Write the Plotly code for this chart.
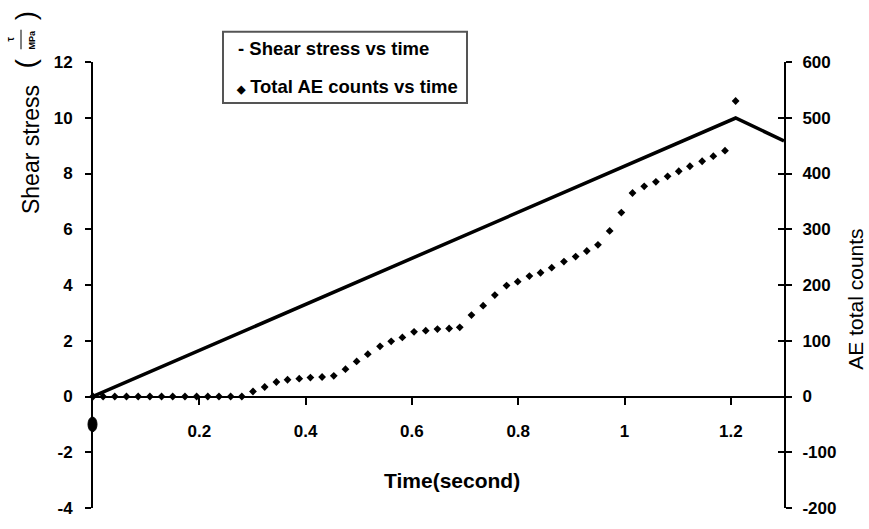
import plotly.graph_objects as go

# ---- data ----
shear_time = [0.0, 1.209, 1.3]
shear_stress = [0.0, 9.99, 9.17]

ae_time = [0.000, 0.019, 0.041, 0.063, 0.085, 0.107, 0.129, 0.150, 0.173, 0.195,
           0.216, 0.237, 0.259, 0.280, 0.301, 0.323, 0.345, 0.366, 0.388, 0.409,
           0.431, 0.453, 0.475, 0.496, 0.517, 0.540, 0.561, 0.582, 0.604, 0.626,
           0.648, 0.670, 0.690, 0.712, 0.734, 0.756, 0.778, 0.799, 0.821, 0.842,
           0.863, 0.886, 0.908, 0.929, 0.950, 0.972, 0.994, 1.015, 1.037, 1.059,
           1.081, 1.102, 1.123, 1.146, 1.167, 1.189, 1.209]
ae_counts = [0, 0, 0, 0, 0, 0, 0, 0, 0, 0,
             0, 0, 0, 0, 9, 17, 26, 30, 32, 34,
             35, 37, 49, 63, 76, 90, 99, 106, 116, 118,
             121, 122, 124, 146, 163, 182, 199, 206, 216, 222,
             231, 242, 251, 261, 272, 297, 330, 365, 377, 385,
             395, 404, 413, 422, 431, 441, 530]

x_tickvals = [0.2, 0.4, 0.6, 0.8, 1.0, 1.2]
x_ticklabels = ["0.2", "0.4", "0.6", "0.8", "1", "1.2"]
y_left_ticks = [-4, -2, 0, 2, 4, 6, 8, 10, 12]
y_right_ticks = [-200, -100, 0, 100, 200, 300, 400, 500, 600]

FONT = "Liberation Sans, Arial, sans-serif"

def bold(labels):
    return ["<b>%s</b>" % s for s in labels]

fig = go.Figure()
fig.add_trace(go.Scatter(x=shear_time, y=shear_stress, mode="lines",
                         line=dict(color="black", width=3.5),
                         name="Shear stress vs time", yaxis="y", cliponaxis=False))
fig.add_trace(go.Scatter(x=ae_time, y=ae_counts, mode="markers",
                         marker=dict(symbol="diamond", size=6, color="black"),
                         name="Total AE counts vs time", yaxis="y2", cliponaxis=False))
# invisible trace to carry the inner ticks of the right axis
fig.add_trace(go.Scatter(x=[0], y=[0], mode="markers", marker=dict(opacity=0),
                         yaxis="y3", showlegend=False, hoverinfo="skip"))

tickfont = dict(family=FONT, size=17, color="black", weight="bold")

fig.update_layout(
    width=869, height=529, autosize=False,
    margin=dict(l=93, r=85, t=62, b=11),
    paper_bgcolor="white", plot_bgcolor="white",
    showlegend=False,
    xaxis=dict(range=[0, 1.3], anchor="free", position=0.25,
               tickvals=x_tickvals, ticktext=bold(x_ticklabels),
               ticks="outside", ticklen=7, tickwidth=2, tickcolor="black",
               showline=True, linecolor="black", linewidth=2,
               showgrid=False, zeroline=False, tickfont=tickfont,
               ticklabelstandoff=12),
    yaxis=dict(range=[-4, 12], tickvals=y_left_ticks,
               ticktext=bold([str(v) for v in y_left_ticks]),
               anchor="x", side="left",
               ticks="outside", ticklen=6, tickwidth=2, tickcolor="black",
               showline=True, linecolor="black", linewidth=2,
               showgrid=False, zeroline=False, tickfont=tickfont,
               ticklabelstandoff=9),
    yaxis2=dict(range=[-200, 600], tickvals=y_right_ticks,
                ticktext=bold([str(v) for v in y_right_ticks]),
                anchor="x", overlaying="y", side="right",
                ticks="outside", ticklen=6, tickwidth=2, tickcolor="black",
                showline=True, linecolor="black", linewidth=2,
                showgrid=False, zeroline=False, tickfont=tickfont,
                ticklabelstandoff=7),
    yaxis3=dict(range=[-200, 600], tickvals=y_right_ticks, anchor="x",
                overlaying="y", side="right",
                ticks="inside", ticklen=6, tickwidth=2, tickcolor="black",
                showline=False, showgrid=False, zeroline=False,
                showticklabels=False),
)

def px(xp):
    return (xp - 93) / 691.0

def py(yp):
    return (518 - yp) / 456.0

def ann(text, x, y, size, bold_=False, angle=0, xanchor="center", family=FONT):
    return dict(text=("<b>%s</b>" % text) if bold_ else text,
                x=px(x), y=py(y), xref="paper", yref="paper",
                xanchor=xanchor, yanchor="middle", textangle=angle,
                showarrow=False, font=dict(family=family, size=size, color="black"))

annotations = [
    ann("Time(second)", 452, 490, 21, bold_=True),
    ann("Shear stress", 31, 152, 23, angle=-90),
    ann("(     )", 26, 39, 28, angle=-90),
    ann("τ", 11, 39, 10, bold_=True, angle=-90),
    ann("MPa", 32, 39, 9, bold_=True, angle=-90),
    ann("AE total counts", 856, 305, 21, angle=-90),
    ann("- Shear stress vs time", 236, 48, 18.5, bold_=True, xanchor="left"),
    ann("<span style='font-size:11px'>◆</span> Total AE counts vs time", 234, 87, 18.5,
        bold_=True, xanchor="left"),
]
fig.update_layout(annotations=annotations)

shapes = [
    dict(type="rect", xref="paper", yref="paper",
         x0=px(223), x1=px(467), y0=py(104), y1=py(31),
         line=dict(color="#555555", width=2), fillcolor="rgba(0,0,0,0)"),
    dict(type="line", xref="paper", yref="paper",
         x0=px(21), x1=px(21), y0=py(29), y1=py(49),
         line=dict(color="black", width=1)),
    dict(type="circle", xref="paper", yref="paper",
         x0=px(88), x1=px(97), y0=py(440), y1=py(425),
         line=dict(color="black", width=1), fillcolor="black"),
]
fig.update_layout(shapes=shapes)

fig.write_html("out.html")
